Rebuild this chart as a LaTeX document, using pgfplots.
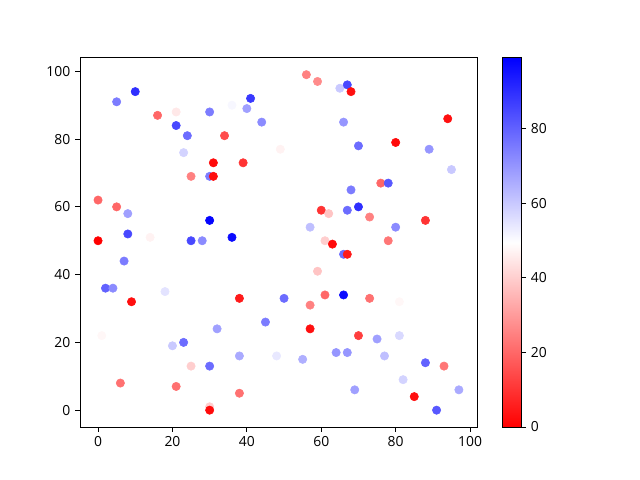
\documentclass[border=0pt]{standalone}
\usepackage{pgfplots}
\pgfplotsset{compat=1.18}
\usepackage{pgfplotstable}
\usepackage{fontspec}
\setmainfont{Open Sans}
\pgfplotstableread{
x y c
10 94 90
5 91 75
16 87 20
21 88 45
30 88 75
21 84 85
24 81 78
34 81 15
23 76 58
31 73 2
39 73 10
25 69 25
30 69 75
31 69 3
36 90 51
41 92 88
40 89 68
44 85 72
49 77 47
0 62 20
5 60 20
8 58 68
30 56 98
0 50 0
8 52 85
14 51 47
25 50 85
28 50 72
36 51 97
56 99 25
59 97 27
65 95 60
67 96 85
68 94 3
94 86 3
66 85 70
80 79 2
70 78 78
89 77 70
95 71 60
76 67 20
78 67 82
68 65 75
60 59 10
62 58 38
67 59 78
70 60 90
73 57 25
88 56 10
57 54 62
80 54 72
61 50 40
63 49 2
78 50 23
66 46 78
67 46 5
59 41 38
50 33 78
57 31 25
61 34 20
66 34 97
73 33 22
81 32 48
57 24 3
70 22 12
75 21 68
81 22 57
48 16 54
55 15 65
64 17 70
67 17 70
77 16 62
88 14 80
93 13 23
82 9 58
69 6 68
97 6 66
85 4 3
91 0 82
7 44 75
2 36 80
4 36 72
9 32 3
18 35 55
38 33 5
45 26 75
1 22 48
32 24 68
20 19 60
23 20 78
38 16 66
25 13 40
30 13 78
6 8 22
21 7 22
38 5 22
30 1 40
30 0 2
}\datatable
\begin{document}
\begin{tikzpicture}
\begin{axis}[
  name=ax,
  scale only axis,
  width=285.8pt, height=265.7pt,
  xmin=-4.85, xmax=101.85, ymin=-4.95, ymax=103.95,
  xtick={0,20,40,60,80,100}, ytick={0,20,40,60,80,100},
  tick align=outside, xtick pos=bottom, ytick pos=left,
  major tick length=3.5pt,
  tick style={black, line width=0.6pt},
  axis line style={line width=0.6pt},
  ticklabel style={font=\fontsize{10}{12}\selectfont},
  /pgf/number format/assume math mode=true,
  colormap={bwrr}{rgb=(1,0,0) rgb=(1,1,1) rgb=(0,0,1)},
  point meta min=0, point meta max=99,
  colorbar,
  colorbar style={
    at={(parent axis.north east)}, anchor=north west, xshift=10pt,
    width=13.3pt,
    ytick={0,20,40,60,80},
    ytick pos=right,
    tick align=outside,
    major tick length=3.5pt,
    axis line style={line width=0.6pt},
    tick style={black, line width=0.6pt},
    yticklabel style={font=\fontsize{10}{12}\selectfont},
    /pgf/number format/assume math mode=true,
  },
]
\addplot[scatter, only marks, mark=*, mark size=3pt,
  scatter/use mapped color={draw=mapped color, fill=mapped color}, point meta=explicit]
  table[x=x, y=y, meta=c] {\datatable};
\end{axis}
\path[use as bounding box] ([shift={(-57.6pt,-38.2pt)}]ax.south west) rectangle ([shift={(403.2pt,307.4pt)}]ax.south west);
\end{tikzpicture}
\end{document}
